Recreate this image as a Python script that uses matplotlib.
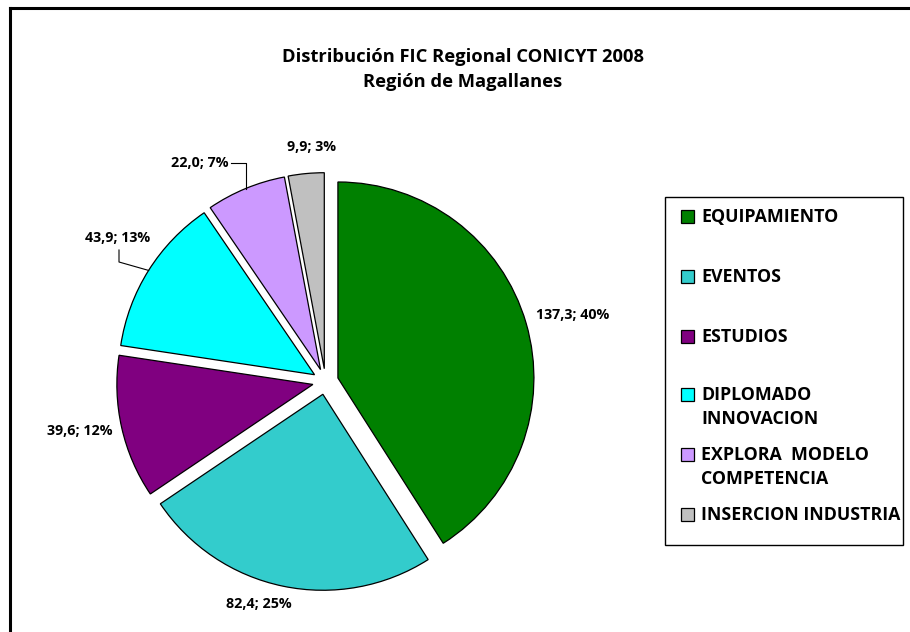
import matplotlib
matplotlib.use("Agg")
import matplotlib.pyplot as plt
from matplotlib.patches import Rectangle
from matplotlib.lines import Line2D
import numpy as np

# ---- data ----
categories = ["EQUIPAMIENTO", "EVENTOS", "ESTUDIOS",
              "DIPLOMADO\nINNOVACION", "EXPLORA  MODELO\nCOMPETENCIA",
              "INSERCION INDUSTRIA"]
values = [137.3, 82.4, 39.6, 43.9, 22.0, 9.9]
percent_labels = ["40%", "25%", "12%", "13%", "7%", "3%"]
colors = ["#008000", "#33CCCC", "#800080", "#00FFFF", "#CC99FF", "#C0C0C0"]
title_lines = ["Distribución FIC Regional CONICYT 2008", "Región de Magallanes"]

# ---- layout (screen pixels) ----
W, H = 910, 632
R = 196.0
CX, CY = 325.5, 381.6
label_pos = [(573, 315), (259, 604), (80, 431), (118, 238), (200, 163), (312, 147)]
legend_rows = [216, 276, 336, 394, 454, 514]
LINE_GAP = 24
FONT = ["Open Sans", "DejaVu Sans"]

fig = plt.figure(figsize=(W / 100, H / 100), dpi=100)
fig.patch.set_facecolor("white")
ax = fig.add_axes([0, 0, 1, 1])


def u(xs, ys):
    return (xs - CX) / R, (CY - ys) / R


wedges, _ = ax.pie(values, colors=colors, startangle=90, counterclock=False,
                   explode=[0.066] * len(values), radius=1,
                   wedgeprops=dict(edgecolor="black", linewidth=0.9))
ax.set_xlim(-CX / R, (W - CX) / R)
ax.set_ylim(-(H - CY) / R, CY / R)
ax.set_aspect("auto")
ax.axis("off")

# data labels
for i, (v, p) in enumerate(zip(values, percent_labels)):
    txt = f"{v:.1f}".replace(".", ",") + "; " + p
    lx, ly = u(*label_pos[i])
    ax.text(lx, ly, txt, ha="center", va="center", fontsize=10.3,
            fontweight="bold", family=FONT, color="black")


def arc_mid(w):
    th = np.deg2rad(0.5 * (w.theta1 + w.theta2))
    c = w.center
    return c[0] + w.r * np.cos(th), c[1] + w.r * np.sin(th)

# leader for EXPLORA (index 4)
ax4x, ax4y = arc_mid(wedges[4])
lx, ly = u(231, 163)
ax.plot([lx, ax4x, ax4x], [ly, ly, ax4y], color="black", lw=0.8)
# leader for DIPLOMADO (index 3)
ax3x, ax3y = arc_mid(wedges[3])
p1 = u(119, 250)
p2 = u(119, 262)
ax.plot([p1[0], p2[0], ax3x], [p1[1], p2[1], ax3y], color="black", lw=0.8)

# title
fig.text(463 / W, 1 - 57 / H, title_lines[0], ha="center", va="center",
         fontsize=13.2, fontweight="bold", family=FONT)
fig.text(463 / W, 1 - 82 / H, title_lines[1], ha="center", va="center",
         fontsize=13.2, fontweight="bold", family=FONT)

# legend box
fig.patches.append(Rectangle((665 / W, 1 - 545 / H), (903 - 665) / W, (545 - 197) / H,
                             transform=fig.transFigure, fill=False,
                             edgecolor="black", linewidth=1.0))
for cat, col, yr in zip(categories, colors, legend_rows):
    fig.patches.append(Rectangle((681 / W, 1 - (yr + 6.5) / H), 13 / W, 13 / H,
                                 transform=fig.transFigure, facecolor=col,
                                 edgecolor="black", linewidth=0.9))
    for k, line in enumerate(cat.split("\n")):
        fig.text(701 / W, 1 - (yr + 6 + k * LINE_GAP) / H, line, ha="left",
                 va="baseline", fontsize=12.8, fontweight="bold", family=FONT)

# outer border (top and left)
fig.add_artist(Line2D([10 / W, 1], [1 - 8 / H, 1 - 8 / H], transform=fig.transFigure,
                      color="black", lw=2.2))
fig.add_artist(Line2D([10 / W, 10 / W], [0, 1 - 8 / H], transform=fig.transFigure,
                      color="black", lw=2.2))

fig.savefig("out.png", dpi=100, facecolor="white")
